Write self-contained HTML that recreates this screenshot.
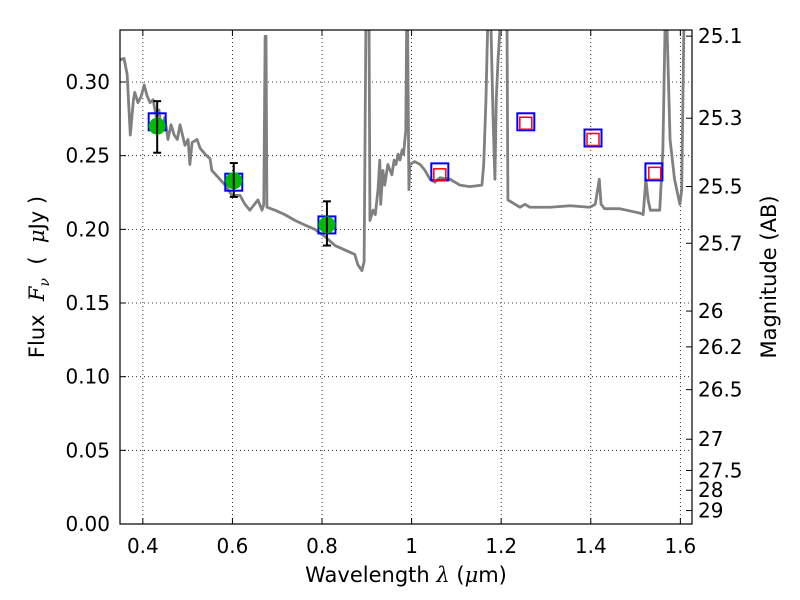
<!DOCTYPE html>
<html><head><meta charset="utf-8"><style>
body{margin:0;background:#fff;}
svg{display:block;font-family:"DejaVu Sans","Liberation Sans",sans-serif;}
</style></head><body>
<svg id="chart" width="800" height="600"></svg>
<script>
const specWl=[0.349,0.358,0.365,0.372,0.379,0.382,0.389,0.396,0.403,0.409,0.416,0.423,0.430,0.436,0.442,0.449,0.456,0.463,0.470,0.477,0.483,0.494,0.501,0.505,0.510,0.521,0.528,0.539,0.550,0.554,0.572,0.584,0.599,0.617,0.628,0.639,0.657,0.666,0.670,0.673,0.675,0.677,0.695,0.717,0.740,0.761,0.784,0.807,0.829,0.851,0.873,0.880,0.889,0.894,0.898,0.905,0.907,0.914,0.919,0.925,0.929,0.931,0.936,0.940,0.947,0.956,0.961,0.965,0.970,0.974,0.979,0.982,0.987,0.989,0.991,0.994,0.996,1.007,1.019,1.030,1.041,1.052,1.063,1.086,1.108,1.130,1.157,1.161,1.166,1.170,1.177,1.182,1.186,1.189,1.193,1.198,1.208,1.213,1.215,1.231,1.242,1.253,1.264,1.309,1.354,1.398,1.410,1.419,1.423,1.431,1.465,1.510,1.517,1.523,1.528,1.533,1.554,1.561,1.566,1.570,1.577,1.587,1.599,1.603,1.608,1.626];
const specFlux=[0.315,0.316,0.305,0.264,0.288,0.293,0.286,0.290,0.298,0.291,0.286,0.288,0.276,0.281,0.267,0.276,0.261,0.271,0.264,0.261,0.271,0.257,0.261,0.244,0.259,0.261,0.255,0.251,0.248,0.240,0.234,0.230,0.223,0.223,0.217,0.213,0.220,0.213,0.217,0.331,0.331,0.215,0.213,0.210,0.206,0.203,0.200,0.195,0.189,0.186,0.183,0.176,0.172,0.178,0.34,0.34,0.206,0.213,0.210,0.227,0.247,0.217,0.240,0.230,0.244,0.237,0.247,0.244,0.251,0.247,0.254,0.251,0.267,0.34,0.34,0.227,0.244,0.246,0.244,0.240,0.234,0.232,0.235,0.234,0.230,0.229,0.230,0.244,0.288,0.34,0.34,0.274,0.234,0.288,0.315,0.34,0.34,0.34,0.220,0.217,0.215,0.217,0.215,0.215,0.216,0.215,0.217,0.234,0.217,0.214,0.214,0.211,0.210,0.234,0.220,0.213,0.213,0.254,0.34,0.34,0.261,0.234,0.217,0.227,0.34,0.34];
const obsWl=[0.432,0.603,0.811];
const obsFlux=[0.270,0.233,0.203];
const obsLo=[0.252,0.222,0.189];
const obsHi=[0.287,0.245,0.219];
const modWl=[0.432,0.603,0.811,1.063,1.255,1.405,1.541];
const modFlux=[0.273,0.232,0.203,0.239,0.273,0.262,0.239];
const nirWl=[1.063,1.255,1.405,1.543];
const nirFlux=[0.237,0.272,0.261,0.238];
const xTicks=[0.4,0.6,0.8,1.0,1.2,1.4,1.6];
const xTickLabels=["0.4","0.6","0.8","1","1.2","1.4","1.6"];
const yTicks=[0,0.05,0.10,0.15,0.20,0.25,0.30];
const yTickLabels=["0.00","0.05","0.10","0.15","0.20","0.25","0.30"];
const magTicks=[25.1,25.3,25.5,25.7,26,26.2,26.5,27,27.5,28,29];

const L=120,R=692,T=30,B=524,X0=0.349,X1=1.626,Y1=0.3353;
const sx=v=>L+(v-X0)/(X1-X0)*(R-L);
const sy=v=>B-v/Y1*(B-T);
const svg=document.getElementById('chart');
const NS="http://www.w3.org/2000/svg";
function mk(tag,attrs,parent){const e=document.createElementNS(NS,tag);for(const k in attrs)e.setAttribute(k,attrs[k]);(parent||svg).appendChild(e);return e;}

const clip=mk('clipPath',{id:'pc'});mk('rect',{x:L,y:T,width:R-L,height:B-T},clip);
xTicks.forEach((v,i)=>{
 const g=mk('line',{x1:sx(v),x2:sx(v),y1:T,y2:B,stroke:'#000','stroke-width':0.8,'stroke-dasharray':'1,3'});
 
 
 mk('line',{x1:sx(v),x2:sx(v),y1:B,y2:B-6,stroke:'#000'});
 mk('line',{x1:sx(v),x2:sx(v),y1:T,y2:T+6,stroke:'#000'});
 const t=mk('text',{x:sx(v),y:B+29,'text-anchor':'middle','font-size':20});t.textContent=xTickLabels[i];
 
 
});
yTicks.forEach((v,i)=>{
 const g=mk('line',{x1:L,x2:R,y1:sy(v),y2:sy(v),stroke:'#000','stroke-width':0.8,'stroke-dasharray':'1,3'});
 
 
 mk('line',{x1:L,x2:L+6,y1:sy(v),y2:sy(v),stroke:'#000'});
 const t=mk('text',{x:L-10,y:sy(v)+7,'text-anchor':'end','font-size':20});t.textContent=yTickLabels[i];
 
 
});
magTicks.forEach(m=>{
 const f=Math.pow(10,(23.9-m)/2.5);const y=sy(f);
 mk('line',{x1:R,x2:R-6,y1:y,y2:y,stroke:'#000'});
 const t=mk('text',{x:R+6,y:y+7,'font-size':20});t.textContent=String(m);
 
 
});
const g=mk('g',{'clip-path':'url(#pc)'});
const pl=mk('polyline',{points:specWl.map((w,i)=>sx(w)+','+sy(specFlux[i])).join(' '),fill:'none',stroke:'#808080','stroke-width':2.8,'stroke-linejoin':'round'},g);


obsWl.forEach((w,i)=>{
 const x=sx(w);
 const e=mk('g',{stroke:'#000','stroke-width':2});
 
 
 mk('line',{x1:x,x2:x,y1:sy(obsLo[i]),y2:sy(obsHi[i])},e);
 mk('line',{x1:x-4,x2:x+4,y1:sy(obsLo[i]),y2:sy(obsLo[i])},e);
 mk('line',{x1:x-4,x2:x+4,y1:sy(obsHi[i]),y2:sy(obsHi[i])},e);
});
modWl.forEach((w,i)=>{
 const r=mk('rect',{x:sx(w)-8.5,y:sy(modFlux[i])-8.5,width:17,height:17,fill:'none',stroke:'#0000ff','stroke-width':2});
 
 
});
nirWl.forEach((w,i)=>{
 const r=mk('rect',{x:sx(w)-6,y:sy(nirFlux[i])-6,width:12,height:12,fill:'none',stroke:'#ff0000','stroke-width':1.5});
 
 
});
obsWl.forEach((w,i)=>{
 const c=mk('circle',{cx:sx(w),cy:sy(obsFlux[i]),r:8.5,fill:'#00bb00'});
 
 
 mk('line',{x1:sx(w),x2:sx(w),y1:sy(obsFlux[i])-8,y2:sy(obsFlux[i])+8,stroke:'#000','stroke-width':2});
});
const fr=mk('rect',{x:L,y:T,width:R-L,height:B-T,fill:'none',stroke:'#000','stroke-width':1.2});


</script>
<svg style="position:absolute;left:0;top:0" width="800" height="600">
<text x="406" y="582" text-anchor="middle" font-size="21" font-family="DejaVu Sans,sans-serif">Wavelength  <tspan font-style="italic" font-family="DejaVu Serif,serif">λ</tspan> (<tspan font-style="italic" font-family="DejaVu Serif,serif">μ</tspan>m)</text>
<text transform="translate(44,277) rotate(-90)" text-anchor="middle" font-size="21" font-family="DejaVu Sans,sans-serif" xml:space="preserve">Flux  <tspan font-style="italic" font-family="DejaVu Serif,serif">F</tspan><tspan font-style="italic" font-size="14" dy="5" font-family="DejaVu Serif,serif">ν</tspan><tspan dy="-5">  (  </tspan><tspan font-style="italic" font-family="DejaVu Serif,serif">μ</tspan>Jy )</text>
<text transform="translate(776,277) rotate(-90)" text-anchor="middle" font-size="21" font-family="DejaVu Sans,sans-serif">Magnitude (AB)</text>
</svg>
</body></html>
